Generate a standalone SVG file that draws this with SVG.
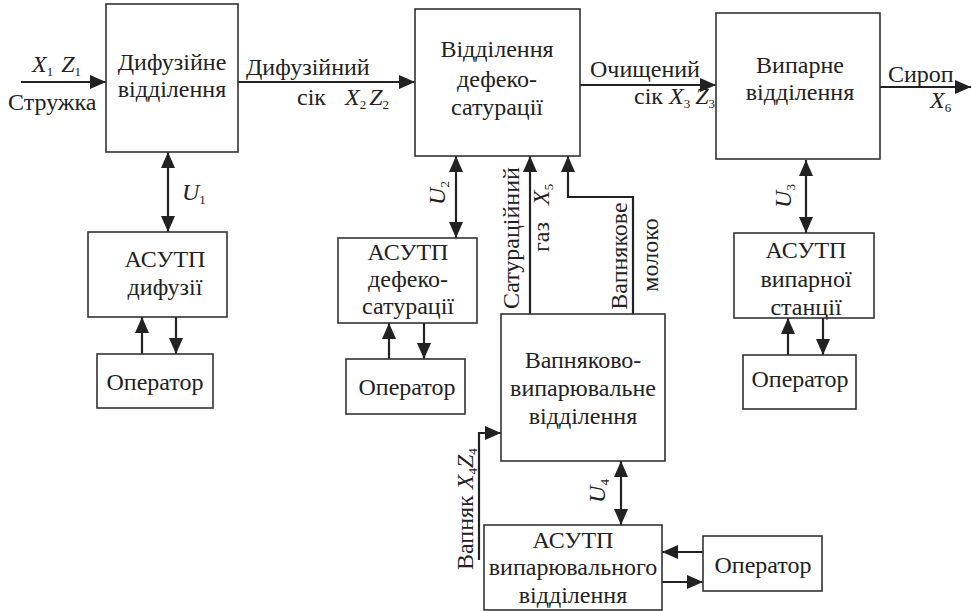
<svg xmlns="http://www.w3.org/2000/svg" width="972" height="611" viewBox="0 0 972 611" font-family="Liberation Serif, Tinos, Times New Roman, DejaVu Serif, serif">
<style>
.box{fill:#fff;stroke:#333;stroke-width:1.6}
.ln{fill:none;stroke:#222;stroke-width:2.2}
.t{font-family:Liberation Serif, Tinos, Times New Roman, Times, DejaVu Serif, serif;font-size:24px;fill:#222}
.c{text-anchor:middle}
.i{font-style:italic}
.s{font-size:13px;font-style:normal}
</style>
<defs>
<marker id="ah" markerUnits="userSpaceOnUse" markerWidth="16" markerHeight="14" refX="16" refY="7" orient="auto-start-reverse" viewBox="0 0 16 14">
<path d="M0,0 L16,7 L0,14 z" fill="#222"/>
</marker>
</defs>
<rect width="972" height="611" fill="#fff"/>

<g id="connectors">
<path class="ln" d="M21,82 H106" marker-end="url(#ah)"/>
<path class="ln" d="M238,82 H415" marker-end="url(#ah)"/>
<path class="ln" d="M580,85 H716" marker-end="url(#ah)"/>
<path class="ln" d="M880,87 H971" marker-end="url(#ah)"/>
<path class="ln" d="M168,152 V232" marker-start="url(#ah)" marker-end="url(#ah)"/>
<path class="ln" d="M142,354 V317" marker-end="url(#ah)"/>
<path class="ln" d="M176,317 V354" marker-end="url(#ah)"/>
<path class="ln" d="M456,156 V238" marker-start="url(#ah)" marker-end="url(#ah)"/>
<path class="ln" d="M389,359 V323" marker-end="url(#ah)"/>
<path class="ln" d="M424,323 V359" marker-end="url(#ah)"/>
<path class="ln" d="M530,314 V156" marker-end="url(#ah)"/>
<path class="ln" d="M633,314 V197 H568 V156" marker-end="url(#ah)"/>
<path class="ln" d="M806,160 V233" marker-start="url(#ah)" marker-end="url(#ah)"/>
<path class="ln" d="M788,355 V318" marker-end="url(#ah)"/>
<path class="ln" d="M823,318 V355" marker-end="url(#ah)"/>
<path class="ln" d="M479,560 V433 H501" marker-end="url(#ah)"/>
<path class="ln" d="M621,461 V525" marker-start="url(#ah)" marker-end="url(#ah)"/>
<path class="ln" d="M703,552 H662" marker-end="url(#ah)"/>
<path class="ln" d="M662,582 H703" marker-end="url(#ah)"/>
</g>

<g id="labels">
<text class="t i" x="32" y="72">X<tspan class="s" dy="4">1</tspan><tspan dx="8" dy="-4">Z</tspan><tspan class="s" dy="4">1</tspan></text>
<text class="t" x="8" y="110">Стружка</text>
<text class="t" x="246" y="75">Дифузійний</text>
<text class="t" x="297" y="105">сік</text>
<text class="t i" x="345" y="105">X<tspan class="s" dy="4">2</tspan><tspan dx="3" dy="-4">Z</tspan><tspan class="s" dy="4">2</tspan></text>
<text class="t" x="590" y="77">Очищений</text>
<text class="t" x="634" y="104">сік <tspan class="i">X</tspan><tspan class="s" dy="4">3</tspan><tspan class="i" dx="5" dy="-4">Z</tspan><tspan class="s" dy="4">3</tspan></text>
<text class="t" x="888" y="82">Сироп</text>
<text class="t i" x="930" y="108">X<tspan class="s" dy="4">6</tspan></text>
<text class="t i" x="182" y="200">U<tspan class="s" dy="4">1</tspan></text>
<text class="t i c" transform="translate(445,193) rotate(-90)">U<tspan class="s" dy="4">2</tspan></text>
<text class="t i c" transform="translate(791,196) rotate(-90)">U<tspan class="s" dy="4">3</tspan></text>
<text class="t i c" transform="translate(605,491) rotate(-90)">U<tspan class="s" dy="4">4</tspan></text>
<text class="t c" transform="translate(519,238) rotate(-90)">Сатураційний</text>
<text class="t" transform="translate(549,252) rotate(-90)">газ<tspan class="i" dx="17">X</tspan><tspan class="s" dy="4">5</tspan></text>
<text class="t c" transform="translate(627,256) rotate(-90)">Вапнякове</text>
<text class="t c" transform="translate(658,255) rotate(-90)">молоко</text>
<text class="t" transform="translate(473,570) rotate(-90)">Вапняк <tspan class="i">X</tspan><tspan class="s" dy="4">4</tspan><tspan class="i" dy="-4">Z</tspan><tspan class="s" dy="4">4</tspan></text>
</g>

<g id="n-diffusion">
<rect class="box" x="106" y="4" width="132" height="148"/>
<text class="t c" x="172" y="70">Дифузійне</text>
<text class="t c" x="172" y="97">відділення</text>
</g>
<g id="n-defeco">
<rect class="box" x="415" y="9" width="165" height="147"/>
<text class="t c" x="497" y="57">Відділення</text>
<text class="t c" x="497" y="87">дефеко-</text>
<text class="t c" x="497" y="115">сатурації</text>
</g>
<g id="n-evap">
<rect class="box" x="716" y="13" width="164" height="146"/>
<text class="t c" x="800" y="73">Випарне</text>
<text class="t c" x="800" y="100">відділення</text>
</g>
<g id="n-lime">
<rect class="box" x="501" y="314" width="164" height="147"/>
<text class="t c" x="583" y="368">Вапняково-</text>
<text class="t c" x="583" y="396">випарювальне</text>
<text class="t c" x="583" y="424">відділення</text>
</g>
<g id="n-asutp1">
<rect class="box" x="88" y="232" width="139" height="85"/>
<text class="t c" x="165" y="267">АСУТП</text>
<text class="t c" x="165" y="295">дифузії</text>
</g>
<g id="n-op1">
<rect class="box" x="97" y="354" width="116" height="54"/>
<text class="t c" x="155" y="390">Оператор</text>
</g>
<g id="n-asutp2">
<rect class="box" x="338" y="238" width="139" height="85"/>
<text class="t c" x="408" y="260">АСУТП</text>
<text class="t c" x="408" y="287">дефеко-</text>
<text class="t c" x="408" y="314">сатурації</text>
</g>
<g id="n-op2">
<rect class="box" x="346" y="359" width="119" height="55"/>
<text class="t c" x="407" y="395">Оператор</text>
</g>
<g id="n-asutp3">
<rect class="box" x="734" y="233" width="140" height="85"/>
<text class="t c" x="806" y="258">АСУТП</text>
<text class="t c" x="806" y="287">випарної</text>
<text class="t c" x="806" y="315">станції</text>
</g>
<g id="n-op3">
<rect class="box" x="743" y="355" width="113" height="54"/>
<text class="t c" x="800" y="387">Оператор</text>
</g>
<g id="n-asutp4">
<rect class="box" x="484" y="525" width="178" height="85"/>
<text class="t c" x="573" y="548">АСУТП</text>
<text class="t c" x="573" y="575">випарювального</text>
<text class="t c" x="573" y="603">відділення</text>
</g>
<g id="n-op4">
<rect class="box" x="703" y="536" width="119" height="55"/>
<text class="t c" x="763" y="573">Оператор</text>
</g>
</svg>
